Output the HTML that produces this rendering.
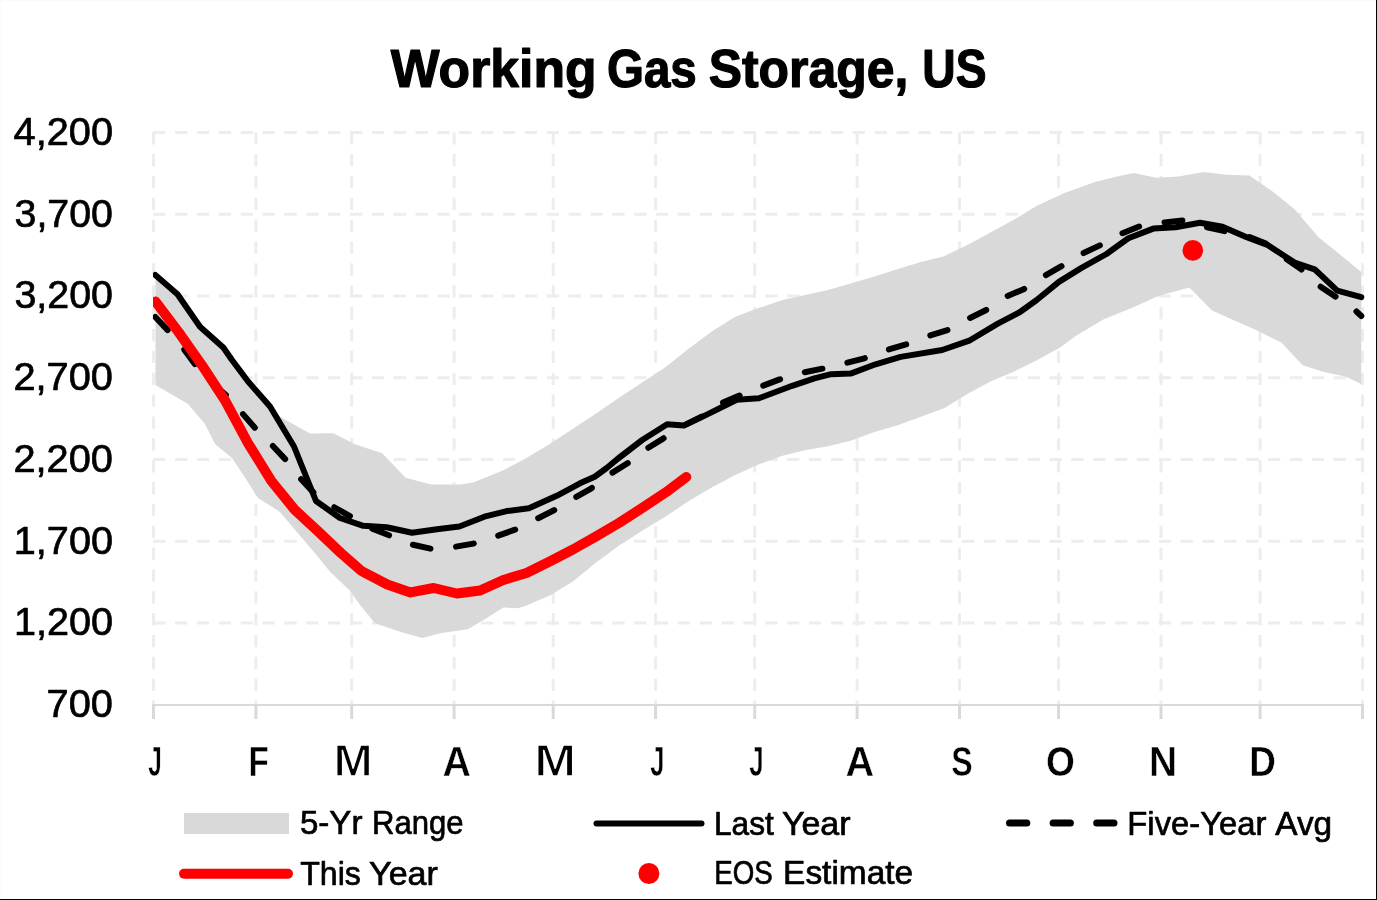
<!DOCTYPE html>
<html><head><meta charset="utf-8"><title>Working Gas Storage, US</title>
<style>
html,body{margin:0;padding:0;background:#fff;}
body{width:1377px;height:900px;position:relative;overflow:hidden;font-family:"Liberation Sans",sans-serif;}
.ln{position:absolute;}
</style></head><body>
<div class="ln" style="left:0;top:0;width:1376px;height:1px;background:#fbfbfb"></div><div class="ln" style="left:0;top:0;width:1px;height:899px;background:#fbfbfb"></div><div class="ln" style="left:1376px;top:0;width:1px;height:900px;background:#000"></div><div class="ln" style="left:0;top:899px;width:1377px;height:1px;background:#000"></div>
<svg width="1377" height="900" viewBox="0 0 1377 900" style="position:absolute;left:0;top:0;will-change:transform" font-family="'Liberation Sans', sans-serif" fill="#000"><g stroke="#ededed" stroke-width="3" stroke-dasharray="12.3 9.56" fill="none"><line x1="153.2" y1="132.6" x2="1364" y2="132.6"/><line x1="153.2" y1="214.35" x2="1364" y2="214.35"/><line x1="153.2" y1="296.1" x2="1364" y2="296.1"/><line x1="153.2" y1="377.85" x2="1364" y2="377.85"/><line x1="153.2" y1="459.6" x2="1364" y2="459.6"/><line x1="153.2" y1="541.35" x2="1364" y2="541.35"/><line x1="153.2" y1="623.1" x2="1364" y2="623.1"/><line x1="153.5" y1="132.2" x2="153.5" y2="705"/><line x1="255.9" y1="132.2" x2="255.9" y2="705"/><line x1="351.7" y1="132.2" x2="351.7" y2="705"/><line x1="454.1" y1="132.2" x2="454.1" y2="705"/><line x1="553.2" y1="132.2" x2="553.2" y2="705"/><line x1="655.6" y1="132.2" x2="655.6" y2="705"/><line x1="754.7" y1="132.2" x2="754.7" y2="705"/><line x1="857.1" y1="132.2" x2="857.1" y2="705"/><line x1="959.5" y1="132.2" x2="959.5" y2="705"/><line x1="1058.6" y1="132.2" x2="1058.6" y2="705"/><line x1="1161.0" y1="132.2" x2="1161.0" y2="705"/><line x1="1260.1" y1="132.2" x2="1260.1" y2="705"/><line x1="1362.5" y1="132.2" x2="1362.5" y2="705"/></g><path d="M155.5,275.0 L177.5,294.2 L200.0,326.7 L223.3,347.5 L250.0,380.0 L272.0,408.0 L280.0,416.7 L310.0,433.5 L333.3,433.3 L355.6,444.4 L382.2,453.3 L405.6,477.8 L431.1,484.4 L460.0,484.4 L473.3,482.5 L503.3,470.2 L526.5,457.9 L549.7,443.9 L572.9,428.7 L596.1,413.5 L619.3,397.4 L642.5,382.2 L665.7,367.0 L688.9,348.4 L712.1,331.3 L735.3,316.7 L758.5,308.1 L781.7,300.3 L804.9,295.0 L828.1,289.9 L851.3,283.3 L874.5,276.5 L897.7,268.9 L920.9,262.0 L944.1,256.2 L967.3,245.0 L990.5,232.5 L1013.7,219.8 L1036.9,205.7 L1060.1,195.0 L1064.4,193.1 L1095.0,181.9 L1117.2,176.4 L1133.9,173.1 L1156.1,177.8 L1178.3,176.4 L1204.0,172.0 L1225.3,174.7 L1249.3,175.5 L1273.3,192.0 L1294.6,209.3 L1318.6,237.3 L1340.0,254.6 L1361.3,272.0 L1361.3,384.0 L1345.3,376.5 L1324.0,372.0 L1302.6,365.3 L1281.3,342.6 L1257.3,330.6 L1233.3,320.0 L1212.0,310.6 L1189.4,287.5 L1158.9,295.8 L1131.1,308.3 L1103.3,319.4 L1075.6,336.1 L1060.1,347.4 L1036.9,360.2 L1013.7,371.7 L990.5,381.4 L967.3,394.0 L944.1,408.2 L920.9,416.7 L897.7,425.3 L874.5,432.0 L851.3,440.5 L828.1,446.3 L804.9,450.3 L781.7,456.0 L758.5,464.6 L735.3,475.0 L712.1,487.2 L688.9,501.0 L665.7,516.4 L642.5,530.4 L619.3,545.6 L596.1,562.5 L572.9,581.6 L549.7,595.6 L526.5,605.5 L517.8,608.3 L503.3,607.5 L484.4,619.4 L467.8,629.2 L440.0,633.3 L422.5,638.0 L400.0,631.7 L375.0,623.3 L360.0,605.0 L350.0,590.8 L330.0,571.7 L315.0,553.3 L296.7,531.7 L280.0,512.0 L258.0,498.0 L244.0,476.0 L232.0,458.0 L215.0,444.0 L205.0,424.0 L188.0,404.0 L155.5,385.0 Z" fill="#d9d9d9"/><path d="M152,704.9 L1364,704.9" stroke="#d9d9d9" stroke-width="2" fill="none"/><g stroke="#d9d9d9" stroke-width="3"><line x1="153.5" y1="704.9" x2="153.5" y2="719"/><line x1="255.9" y1="704.9" x2="255.9" y2="719"/><line x1="351.7" y1="704.9" x2="351.7" y2="719"/><line x1="454.1" y1="704.9" x2="454.1" y2="719"/><line x1="553.2" y1="704.9" x2="553.2" y2="719"/><line x1="655.6" y1="704.9" x2="655.6" y2="719"/><line x1="754.7" y1="704.9" x2="754.7" y2="719"/><line x1="857.1" y1="704.9" x2="857.1" y2="719"/><line x1="959.5" y1="704.9" x2="959.5" y2="719"/><line x1="1058.6" y1="704.9" x2="1058.6" y2="719"/><line x1="1161.0" y1="704.9" x2="1161.0" y2="719"/><line x1="1260.1" y1="704.9" x2="1260.1" y2="719"/><line x1="1362.5" y1="704.9" x2="1362.5" y2="719"/></g><defs><clipPath id="pc"><rect x="153" y="100" width="1212" height="620"/></clipPath></defs><g clip-path="url(#pc)"><path d="M155.3,317.0 L168.3,330.8 L183.3,348.3 L195.0,364.2 L218.0,388.0 L227.0,396.0 L242.0,413.0 L256.0,429.0 L272.0,445.0 L286.0,460.0 L300.0,478.0 L314.0,493.0 L333.3,506.7 L351.0,516.7 L370.5,528.0 L390.0,535.7 L411.0,544.3 L431.0,548.8 L454.0,547.0 L473.3,543.6 L496.9,536.1 L515.0,529.7 L535.8,519.4 L553.9,510.3 L574.7,497.8 L591.4,488.3 L610.8,473.6 L627.5,463.3 L646.4,448.9 L663.1,438.6 L685.3,424.7 L701.9,416.4 L721.4,403.3 L739.4,395.6 L760.3,386.7 L779.7,379.4 L801.9,372.8 L822.8,368.6 L845.0,363.3 L864.4,358.3 L886.7,350.0 L906.1,344.4 L928.3,336.1 L947.8,330.0 L967.2,319.4 L986.7,309.7 L1004.7,297.2 L1024.2,288.9 L1043.6,276.4 L1061.7,266.1 L1081.1,254.2 L1100.6,245.0 L1120.0,234.2 L1139.4,226.4 L1161.7,222.8 L1183.9,220.3 L1203.3,226.4 L1225.0,231.2 L1246.7,236.0 L1265.3,243.2 L1284.0,257.3 L1301.3,269.3 L1318.6,285.3 L1334.6,296.0 L1354.6,309.8 L1361.3,316.0" stroke="#000" stroke-width="6" fill="none" stroke-linecap="round" stroke-linejoin="round" stroke-dasharray="18 25.68"/><path d="M155.3,275.0 L177.5,294.2 L200.0,326.7 L223.3,347.5 L232.0,360.0 L248.1,381.5 L270.0,406.5 L294.0,446.5 L316.0,501.0 L340.0,518.0 L363.3,525.8 L386.7,527.2 L412.0,532.8 L437.0,529.3 L459.4,526.5 L484.4,516.7 L506.7,511.1 L528.9,508.3 L556.7,495.8 L580.0,483.3 L594.7,476.7 L606.7,468.0 L617.5,459.0 L642.2,440.0 L667.2,424.2 L683.9,425.6 L703.3,416.4 L736.7,399.7 L758.9,398.3 L792.2,385.8 L814.4,378.3 L831.1,374.2 L850.6,373.6 L875.6,364.3 L900.6,356.9 L942.2,350.0 L970.0,340.3 L997.8,323.6 L1020.0,312.0 L1036.7,300.0 L1058.9,281.9 L1081.1,268.1 L1106.5,254.0 L1128.3,238.3 L1153.3,228.6 L1175.6,227.2 L1200.0,222.8 L1222.5,226.8 L1246.7,237.3 L1268.0,245.3 L1294.6,262.6 L1314.6,269.3 L1337.3,290.6 L1361.3,297.2" stroke="#000" stroke-width="6" fill="none" stroke-linecap="round" stroke-linejoin="round"/><path d="M155.5,301.5 L178.5,332.0 L201.7,364.8 L224.9,400.2 L248.1,443.3 L271.3,480.8 L294.5,509.5 L317.7,531.0 L340.9,553.0 L360.9,570.6 L364.1,572.3 L387.3,584.5 L410.5,592.4 L433.7,588.0 L456.9,593.5 L480.1,590.5 L503.3,580.0 L526.5,573.0 L549.7,561.5 L572.9,549.5 L596.1,536.3 L619.3,522.7 L642.5,507.8 L665.7,492.4 L686.3,477.0" stroke="#ff0000" stroke-width="10" fill="none" stroke-linecap="round" stroke-linejoin="round"/></g><circle cx="1192.8" cy="250.4" r="10.3" fill="#ff0000"/><text x="0" y="86.80" transform="matrix(0.9779 0 0 1 390.70 0)" font-size="52.90" font-weight="bold" stroke="#000" stroke-width="1.2" stroke-linejoin="round">Working</text><text x="0" y="86.80" transform="matrix(0.8990 0 0 1 606.90 0)" font-size="52.90" font-weight="bold" stroke="#000" stroke-width="1.2" stroke-linejoin="round">Gas</text><text x="0" y="86.80" transform="matrix(0.9435 0 0 1 708.66 0)" font-size="52.90" font-weight="bold" stroke="#000" stroke-width="1.2" stroke-linejoin="round">Storage,</text><text x="0" y="86.80" transform="matrix(0.8739 0 0 1 922.28 0)" font-size="52.90" font-weight="bold" stroke="#000" stroke-width="1.2" stroke-linejoin="round">US</text><text x="0" y="144.85" transform="matrix(1.0041 0 0 1 13.60 0)" font-size="39.57" stroke="#000" stroke-width="0.7" stroke-linejoin="round">4,200</text><text x="0" y="226.60" transform="matrix(0.9948 0 0 1 14.51 0)" font-size="39.57" stroke="#000" stroke-width="0.7" stroke-linejoin="round">3,700</text><text x="0" y="308.35" transform="matrix(0.9959 0 0 1 14.40 0)" font-size="39.57" stroke="#000" stroke-width="0.7" stroke-linejoin="round">3,200</text><text x="0" y="390.10" transform="matrix(1.0062 0 0 1 13.39 0)" font-size="39.57" stroke="#000" stroke-width="0.7" stroke-linejoin="round">2,700</text><text x="0" y="471.85" transform="matrix(1.0062 0 0 1 13.39 0)" font-size="39.57" stroke="#000" stroke-width="0.7" stroke-linejoin="round">2,200</text><text x="0" y="553.60" transform="matrix(1.0021 0 0 1 13.79 0)" font-size="39.57" stroke="#000" stroke-width="0.7" stroke-linejoin="round">1,700</text><text x="0" y="635.35" transform="matrix(1.0011 0 0 1 13.90 0)" font-size="39.57" stroke="#000" stroke-width="0.7" stroke-linejoin="round">1,200</text><text x="0" y="717.10" transform="matrix(1.0063 0 0 1 46.59 0)" font-size="39.57" stroke="#000" stroke-width="0.7" stroke-linejoin="round">700</text><text x="0" y="775.75" transform="matrix(0.5700 0 0 1 148.33 0)" font-size="42.75" font-weight="bold" stroke="#fff" stroke-width="0.5" stroke-linejoin="round">J</text><text x="0" y="775.75" transform="matrix(0.7762 0 0 1 248.47 0)" font-size="42.75" font-weight="bold" stroke="#fff" stroke-width="0.5" stroke-linejoin="round">F</text><text x="0" y="776.20" transform="matrix(1.0690 0 0 1 333.62 0)" font-size="44.06" font-weight="bold" stroke="#fff" stroke-width="1.4" stroke-linejoin="round">M</text><text x="0" y="775.75" transform="matrix(0.9222 0 0 1 442.56 0)" font-size="42.75" font-weight="bold" stroke="#fff" stroke-width="0.5" stroke-linejoin="round">A</text><text x="0" y="776.20" transform="matrix(1.1414 0 0 1 534.23 0)" font-size="44.06" font-weight="bold" stroke="#fff" stroke-width="1.4" stroke-linejoin="round">M</text><text x="0" y="775.75" transform="matrix(0.5950 0 0 1 650.20 0)" font-size="42.75" font-weight="bold" stroke="#fff" stroke-width="0.5" stroke-linejoin="round">J</text><text x="0" y="775.75" transform="matrix(0.6050 0 0 1 749.29 0)" font-size="42.75" font-weight="bold" stroke="#fff" stroke-width="0.5" stroke-linejoin="round">J</text><text x="0" y="775.75" transform="matrix(0.9296 0 0 1 845.44 0)" font-size="42.75" font-weight="bold" stroke="#fff" stroke-width="0.5" stroke-linejoin="round">A</text><text x="0" y="775.75" transform="matrix(0.7520 0 0 1 951.30 0)" font-size="42.75" font-weight="bold" stroke="#fff" stroke-width="0.5" stroke-linejoin="round">S</text><text x="0" y="775.75" transform="matrix(0.8690 0 0 1 1045.96 0)" font-size="42.75" font-weight="bold" stroke="#fff" stroke-width="0.5" stroke-linejoin="round">O</text><text x="0" y="775.75" transform="matrix(0.9120 0 0 1 1148.96 0)" font-size="42.75" font-weight="bold" stroke="#fff" stroke-width="0.5" stroke-linejoin="round">N</text><text x="0" y="775.75" transform="matrix(0.8654 0 0 1 1249.30 0)" font-size="42.75" font-weight="bold" stroke="#fff" stroke-width="0.5" stroke-linejoin="round">D</text><text x="0" y="834.45" transform="matrix(0.9855 0 0 1 299.91 0)" font-size="33.62" stroke="#000" stroke-width="0.7" stroke-linejoin="round">5-Yr</text><text x="0" y="834.45" transform="matrix(0.9250 0 0 1 371.95 0)" font-size="33.62" stroke="#000" stroke-width="0.7" stroke-linejoin="round">Range</text><text x="0" y="834.65" transform="matrix(0.9403 0 0 1 714.02 0)" font-size="33.62" stroke="#000" stroke-width="0.7" stroke-linejoin="round">Last</text><text x="0" y="834.65" transform="matrix(1.0119 0 0 1 781.89 0)" font-size="33.62" stroke="#000" stroke-width="0.7" stroke-linejoin="round">Year</text><text x="0" y="834.65" transform="matrix(0.9885 0 0 1 1127.32 0)" font-size="33.19" stroke="#000" stroke-width="0.7" stroke-linejoin="round">Five-Year</text><text x="0" y="834.65" transform="matrix(1.0055 0 0 1 1275.30 0)" font-size="33.19" stroke="#000" stroke-width="0.7" stroke-linejoin="round">Avg</text><text x="0" y="884.55" transform="matrix(0.9524 0 0 1 300.20 0)" font-size="33.77" stroke="#000" stroke-width="0.7" stroke-linejoin="round">This</text><text x="0" y="884.55" transform="matrix(1.0090 0 0 1 369.09 0)" font-size="33.77" stroke="#000" stroke-width="0.7" stroke-linejoin="round">Year</text><text x="0" y="884.45" transform="matrix(0.8388 0 0 1 714.22 0)" font-size="33.04" stroke="#000" stroke-width="0.7" stroke-linejoin="round">EOS</text><text x="0" y="884.45" transform="matrix(1.0127 0 0 1 783.07 0)" font-size="33.04" stroke="#000" stroke-width="0.7" stroke-linejoin="round">Estimate</text><rect x="184" y="813" width="105" height="21" fill="#d9d9d9"/><line x1="596.5" y1="823.5" x2="701.5" y2="823.5" stroke="#000" stroke-width="6" stroke-linecap="round"/><line x1="1009.5" y1="823" x2="1114" y2="823" stroke="#000" stroke-width="7" stroke-linecap="round" stroke-dasharray="17.3 26.3"/><line x1="184" y1="873.7" x2="288" y2="873.7" stroke="#ff0000" stroke-width="10" stroke-linecap="round"/><circle cx="648.9" cy="873.5" r="10.5" fill="#ff0000"/></svg>
</body></html>
